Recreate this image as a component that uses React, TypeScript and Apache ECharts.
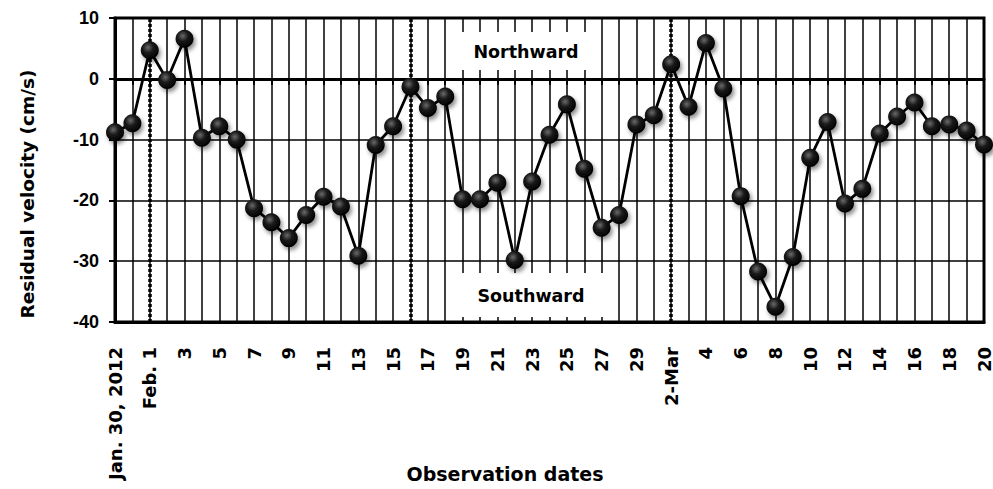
import React, { useEffect, useRef } from "react";
import * as echarts from "echarts";

// Observation days, Jan 30 2012 – Mar 20 2012 (every other one is labelled)
const dateLabels: string[] = [
  "Jan. 30, 2012", "31",
  "Feb. 1", "2", "3", "4", "5", "6", "7", "8", "9", "10",
  "11", "12", "13", "14", "15", "16", "17", "18", "19", "20",
  "21", "22", "23", "24", "25", "26", "27", "28", "29",
  "1", "2-Mar", "3", "4", "5", "6", "7", "8", "9", "10",
  "11", "12", "13", "14", "15", "16", "17", "18", "19", "20",
];

// Daily residual velocity (cm/s); positive = northward, negative = southward
const residualVelocity: number[] = [
  -8.8, -7.3,
  4.7, -0.2, 6.6, -9.7, -7.8, -10.0, -21.3, -23.6, -26.2, -22.4,
  -19.4, -21.0, -29.1, -10.9, -7.8, -1.3, -4.8, -2.9, -19.8, -19.8,
  -17.1, -29.8, -16.9, -9.2, -4.2, -14.8, -24.5, -22.4, -7.5,
  -6.0, 2.4, -4.6, 5.9, -1.6, -19.3, -31.7, -37.5, -29.3, -13.0,
  -7.1, -20.5, -18.1, -9.0, -6.2, -3.9, -7.8, -7.5, -8.5, -10.8,
];

// Category indices marked with dotted vertical lines (Feb 1, Feb 16, Mar 2)
const markedDays: number[] = [2, 17, 32];

const yTicks = { min: -40, max: 10, interval: 10 };

const LABEL_FONT = '"DejaVu Sans", Verdana, sans-serif';

export default function App() {
  const ref = useRef<HTMLDivElement>(null);

  useEffect(() => {
    if (!ref.current) return;
    const chart = echarts.init(ref.current, undefined, { renderer: "svg" });

    const option: echarts.EChartsOption = {
      animation: false,
      backgroundColor: "#fff",
      grid: {
        left: 115,
        right: 2,
        top: 18,
        bottom: 167,
        show: true,
        borderColor: "#000",
        borderWidth: 3,
        backgroundColor: "transparent",
      },
      xAxis: [
        {
          type: "category",
          data: dateLabels,
          boundaryGap: false,
          position: "bottom",
          axisLine: { onZero: false, lineStyle: { color: "#000", width: 3 } },
          axisTick: { show: false },
          axisLabel: {
            interval: 1,
            rotate: 90,
            margin: 25,
            color: "#000",
            fontFamily: LABEL_FONT,
            fontWeight: "bold",
            fontSize: 18,
          },
          splitLine: {
            show: true,
            interval: 0,
            lineStyle: { color: "#000", width: 1.5 },
          },
        },
        {
          // zero line with its small downward ticks
          type: "category",
          data: dateLabels,
          boundaryGap: false,
          position: "top",
          axisLine: { onZero: true, lineStyle: { color: "#000", width: 3 } },
          axisTick: {
            show: true,
            inside: true,
            interval: 0,
            length: 6,
            lineStyle: { color: "#000", width: 2 },
          },
          axisLabel: { show: false },
          splitLine: { show: false },
        },
      ],
      yAxis: {
        type: "value",
        min: yTicks.min,
        max: yTicks.max,
        interval: yTicks.interval,
        axisLine: { show: true, lineStyle: { color: "#000", width: 3 } },
        axisTick: { show: true, length: 6, lineStyle: { color: "#000", width: 2 } },
        axisLabel: {
          margin: 16,
          color: "#000",
          fontFamily: '"Liberation Sans", Arial, sans-serif',
          fontWeight: "bold",
          fontSize: 18,
        },
        splitLine: { show: true, lineStyle: { color: "#000", width: 1.5 } },
      },
      series: [
        {
          type: "line",
          data: residualVelocity,
          xAxisIndex: 0,
          yAxisIndex: 0,
          symbol: "circle",
          symbolSize: 18,
          showSymbol: true,
          showAllSymbol: true,
          z: 5,
          lineStyle: { color: "#000", width: 2.8 },
          itemStyle: {
            color: {
              type: "radial",
              x: 0.4,
              y: 0.35,
              r: 0.65,
              colorStops: [
                { offset: 0, color: "#6a6a6a" },
                { offset: 0.45, color: "#1a1a1a" },
                { offset: 1, color: "#000" },
              ],
            },
            shadowBlur: 4,
            shadowOffsetX: 2,
            shadowOffsetY: 3,
            shadowColor: "rgba(0,0,0,0.45)",
          },
          emphasis: { disabled: true },
          markLine: {
            silent: true,
            symbol: "none",
            label: { show: false },
            lineStyle: { color: "#000", width: 3.5, type: [3, 2] },
            emphasis: { disabled: true },
            data: markedDays.map((i) => ({ xAxis: i })),
          },
        },
      ],
      graphic: [
        {
          type: "rect",
          z: 1,
          shape: { x: 455, y: 32, width: 144, height: 38 },
          style: { fill: "#fff" },
        },
        {
          type: "text",
          z: 1,
          x: 526,
          y: 52,
          style: {
            text: "Northward",
            font: `bold 17.5px ${LABEL_FONT}`,
            fill: "#000",
            align: "center",
            verticalAlign: "middle",
          },
        },
        {
          type: "rect",
          z: 1,
          shape: { x: 455, y: 273, width: 162, height: 44 },
          style: { fill: "#fff" },
        },
        {
          type: "text",
          z: 1,
          x: 531,
          y: 296,
          style: {
            text: "Southward",
            font: `bold 17.5px ${LABEL_FONT}`,
            fill: "#000",
            align: "center",
            verticalAlign: "middle",
          },
        },
        {
          type: "text",
          x: 505,
          y: 474,
          style: {
            text: "Observation dates",
            font: `bold 19px ${LABEL_FONT}`,
            fill: "#000",
            align: "center",
            verticalAlign: "middle",
          },
        },
        {
          type: "text",
          x: 27,
          y: 194,
          rotation: Math.PI / 2,
          style: {
            text: "Residual velocity (cm/s)",
            font: `bold 18.5px ${LABEL_FONT}`,
            fill: "#000",
            align: "center",
            verticalAlign: "middle",
          },
        },
      ],
    };

    chart.setOption(option);
    return () => chart.dispose();
  }, []);

  return (
    <div
      ref={ref}
      style={{ position: "fixed", left: 0, top: 0, width: 993, height: 489, background: "#fff" }}
    />
  );
}
